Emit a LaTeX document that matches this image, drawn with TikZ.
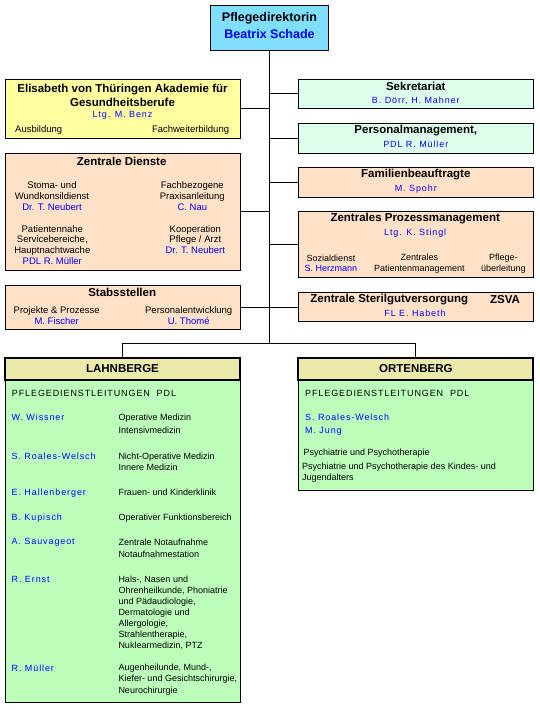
\documentclass[tikz,border=0pt]{standalone}
\usepackage{fontspec}
\setmainfont{Liberation Sans}
\newfontfamily\spaced[LetterSpace=10]{Liberation Sans}
\usepackage{tikz}
\usepackage{xcolor}

\definecolor{pdcyan}{RGB}{128,223,255}
\definecolor{akadyellow}{RGB}{255,255,160}
\definecolor{mint}{RGB}{221,255,236}
\definecolor{peach}{RGB}{255,225,200}
\definecolor{sitehead}{RGB}{236,234,170}
\definecolor{sitegreen}{RGB}{187,255,187}

\newcommand{\pers}[1]{{\color{blue}#1}}

\begin{document}
\begin{tikzpicture}[x=1pt,y=-1pt,
  box/.style={draw=black,line width=1pt,inner sep=0pt},
  head/.style={draw=black,line width=2pt,fill=sitehead,inner sep=0pt,
    font=\fontsize{11.5}{13}\selectfont\bfseries},
  ttl/.style={inner sep=0pt,align=center,font=\fontsize{11.5}{14}\selectfont\bfseries},
  txt/.style={inner sep=0pt,align=center,font=\fontsize{9}{10.9}\selectfont},
  txtl/.style={inner sep=0pt,align=center,font=\fontsize{9.5}{10.9}\selectfont},
  who/.style={inner sep=0pt,align=center,text=blue,font=\fontsize{9}{10.9}\selectfont\spaced},
  big/.style={inner sep=0pt,font=\fontsize{12.5}{15}\selectfont\bfseries}]
\useasboundingbox[fill=white] (0,0) rectangle (540,710);

% Leitung
\node[box,fill=pdcyan,minimum width=117.6pt,minimum height=44.7pt] (pd) at (269.5,28.3) {};
\node[big] (pdT) at (269.5,18.3) {Pflegedirektorin};
\node[big,text=blue] (pdN) at (269.5,34) {Beatrix Schade};

% linke Seite
\node[box,fill=akadyellow,minimum width=235.4pt,minimum height=59.3pt] (akad) at (123,108.7) {};
\node[ttl] (akadT) at (122.5,95.3) {Elisabeth von Thüringen Akademie für\\Gesundheitsberufe};
\node[who] (akadN) at (122.5,115.5) {Ltg. M. Benz};
\node[txtl,anchor=west] (akadA) at (15,130) {Ausbildung};
\node[txtl,anchor=east] (akadF) at (229.3,130) {Fachweiterbildung};

\node[box,fill=peach,minimum width=235.4pt,minimum height=117pt] (zd) at (123,211.8) {};
\node[ttl] (zdT) at (121.7,161.7) {Zentrale Dienste};
\node[txtl] (zd1) at (52,195.8) {Stoma- und\\Wundkonsildienst\\\pers{Dr. T. Neubert}};
\node[txtl] (zd2) at (192.3,195.8) {Fachbezogene\\Praxisanleitung\\\pers{C. Nau}};
\node[txtl] (zd3) at (52.3,245) {Patientennahe\\Servicebereiche,\\Hauptnachtwache\\\pers{PDL R. Müller}};
\node[txtl] (zd4) at (195.3,239.5) {Kooperation\\Pflege / Arzt\\\pers{Dr. T. Neubert}};

\node[box,fill=peach,minimum width=235.4pt,minimum height=43.7pt] (stab) at (123,307.2) {};
\node[ttl] (stabT) at (122.2,292.7) {Stabsstellen};
\node[txtl] (stab1) at (56.7,315.2) {Projekte \& Prozesse\\\pers{M. Fischer}};
\node[txtl] (stab2) at (188.7,315.2) {Personalentwicklung\\\pers{U. Thomé}};

% rechte Seite
\node[box,fill=mint,minimum width=235pt,minimum height=29.3pt] (sekr) at (415.8,93.7) {};
\node[ttl] (sekrT) at (415.8,86) {Sekretariat};
\node[who] (sekrN) at (415.8,101) {B. Dörr, H. Mahner};

\node[box,fill=mint,minimum width=235pt,minimum height=30pt] (persm) at (415.8,138.3) {};
\node[ttl] (persmT) at (415.8,130.7) {Personalmanagement,};
\node[who] (persmN) at (415.8,144.3) {PDL R. Müller};

\node[box,fill=peach,minimum width=235pt,minimum height=30pt] (fam) at (415.8,182.3) {};
\node[ttl] (famT) at (415.8,175) {Familienbeauftragte};
\node[who] (famN) at (415.8,189) {M. Spohr};

\node[box,fill=peach,minimum width=235pt,minimum height=65.6pt] (zpm) at (415.8,244.5) {};
\node[ttl] (zpmT) at (415.2,218.3) {Zentrales Prozessmanagement};
\node[who] (zpmN) at (415.2,233) {Ltg. K. Stingl};
\node[txt] (zpm1) at (331,263.3) {Sozialdienst\\\pers{S. Herzmann}};
\node[txt] (zpm2) at (419.3,263.3) {Zentrales\\Patientenmanagement};
\node[txt] (zpm3) at (503.3,263.3) {Pflege-\\überleitung};

\node[box,fill=peach,minimum width=235pt,minimum height=28.7pt] (zsva) at (415.8,306.7) {};
\node[ttl] (zsvaT) at (389.3,300) {Zentrale Sterilgutversorgung};
\node[ttl] (zsvaK) at (505,300) {ZSVA};
\node[who] (zsvaN) at (415,313.3) {FL E. Habeth};

% Verbindungen
\coordinate (split) at (269.5,343.3);
\draw[line width=1pt] (pd.south) -- (split);
\draw[line width=1pt] (akad.east) -- (akad.east -| split);
\draw[line width=1pt] (zd.east) -- (zd.east -| split);
\draw[line width=1pt] (stab.east) -- (stab.east -| zsva.west);
\draw[line width=1pt] (sekr.west) -- (sekr.west -| split);
\draw[line width=1pt] (persm.west) -- (persm.west -| split);
\draw[line width=1pt] (fam.west) -- (fam.west -| split);
\draw[line width=1pt] (zpm.west) -- (zpm.west -| split);

% Standorte
\node[box,fill=sitegreen,minimum width=235pt,minimum height=322.7pt] (lahnB) at (122.5,541.4) {};
\node[head,minimum width=235pt,minimum height=22.3pt] (lahn) at (122.5,368.8) {LAHNBERGE};
\node[box,fill=sitegreen,minimum width=235pt,minimum height=110pt] (ortB) at (415.8,435) {};
\node[head,minimum width=235pt,minimum height=22.3pt] (ort) at (415.8,368.8) {ORTENBERG};
\draw[line width=1pt] (split) -| (lahn.north);
\draw[line width=1pt] (split) -| (ort.north);

\node[txt,anchor=west,font=\fontsize{9}{10.9}\selectfont\spaced] (lahnP) at (11.7,393.7) {PFLEGEDIENSTLEITUNGEN\ \ PDL};
\node[who,anchor=west] (l1) at (11.5,417.7) {W. Wissner};
\node[txt,anchor=west,align=left,font=\fontsize{9}{13}\selectfont] (r1) at (118.3,424.2) {Operative Medizin\\Intensivmedizin};
\node[who,anchor=west] (l2) at (11.5,456) {S. Roales-Welsch};
\node[txt,anchor=west,align=left,font=\fontsize{9}{11.7}\selectfont] (r2) at (118.3,461.8) {Nicht-Operative Medizin\\Innere Medizin};
\node[who,anchor=west] (l3) at (11.5,492.7) {E. Hallenberger};
\node[txt,anchor=west] (r3) at (118.3,492.7) {Frauen- und Kinderklinik};
\node[who,anchor=west] (l4) at (11.5,517.7) {B. Kupisch};
\node[txt,anchor=west] (r4) at (118.3,517.7) {Operativer Funktionsbereich};
\node[who,anchor=west] (l5) at (11.5,542.7) {A. Sauvageot};
\node[txt,anchor=west,align=left,font=\fontsize{9}{12}\selectfont] (r5) at (118.3,548.7) {Zentrale Notaufnahme\\Notaufnahmestation};
\node[who,anchor=west] (l6) at (11.5,579.7) {R. Ernst};
\node[txt,anchor=west,align=left,font=\fontsize{9}{11.05}\selectfont] (r6) at (118.3,612.9) {Hals-, Nasen und\\Ohrenheilkunde, Phoniatrie\\und Pädaudiologie,\\Dermatologie und\\Allergologie,\\Strahlentherapie,\\Nuklearmedizin, PTZ};
\node[who,anchor=west] (l7) at (11.5,668.3) {R. Müller};
\node[txt,anchor=west,align=left,font=\fontsize{9}{11.2}\selectfont] (r7) at (118.3,679.5) {Augenheilunde, Mund-,\\Kiefer- und Gesichtschirurgie,\\Neurochirurgie};

\node[txt,anchor=west,font=\fontsize{9}{10.9}\selectfont\spaced] (ortP) at (305,393.7) {PFLEGEDIENSTLEITUNGEN\ \ PDL};
\node[who,anchor=west,align=left,font=\fontsize{9}{13}\selectfont\spaced] (o1) at (305,424.2) {S. Roales-Welsch\\M. Jung};
\node[txt,anchor=west] (o2) at (303.3,452.7) {Psychiatrie und Psychotherapie};
\node[txt,anchor=west,align=left,font=\fontsize{9}{11}\selectfont] (o3) at (302,472.2) {Psychiatrie und Psychotherapie des Kindes- und\\Jugendalters};
\end{tikzpicture}
\end{document}
